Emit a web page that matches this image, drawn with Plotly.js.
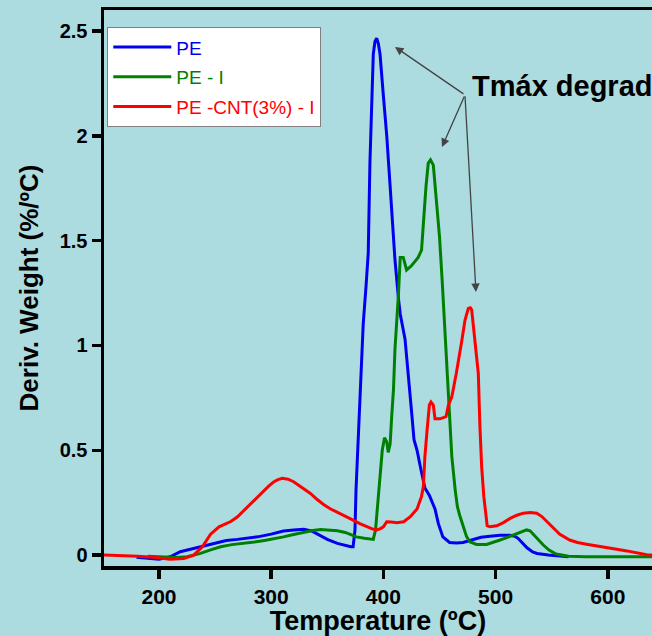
<!DOCTYPE html>
<html>
<head>
<meta charset="utf-8">
<script src="https://cdn.plot.ly/plotly-3.0.1.min.js"></script>
<style>html,body{margin:0;padding:0;background:#ACDBE0;}#chart{width:652px;height:636px;}</style>
</head>
<body>
<div id="chart"></div>
<script>
// Temperature (ºC) and derivative weight (%/ºC) for each sample
const peT = [180,190,200,210,219,228,237,245,252,260,270,280,288,300,311,320,329,336,341,350,359,366,371,373,374.7,375.6,377,379,382,384.5,386.5,388,389.6,391,392.5,394,395.5,397,400,403,406,408.3,410.3,413.5,415,419.3,422.2,425.2,427.3,430,433,437,441,444,446,449,453,459,465,471,480,487,495,504,513,517,520,524,528,533,537,547,555,565];
const peV = [-0.01,-0.015,-0.02,-0.008,0.016,0.028,0.04,0.052,0.063,0.07,0.075,0.082,0.087,0.1,0.115,0.12,0.123,0.115,0.1,0.075,0.056,0.045,0.04,0.04,0.12,0.31,0.5,0.74,1.1,1.28,1.44,1.87,2.16,2.39,2.45,2.465,2.44,2.39,2.19,2.0,1.76,1.57,1.41,1.22,1.15,1.03,0.87,0.68,0.55,0.5,0.42,0.32,0.285,0.25,0.22,0.15,0.087,0.06,0.058,0.06,0.075,0.085,0.09,0.095,0.095,0.09,0.08,0.055,0.035,0.015,0.008,0.0,-0.005,-0.008];

const peIT = [190,204,215,225,237,246,255,265,276,285,294,303,311,320,329,337,344,352,359,366,372,376,383,391,393,394.6,397,399,401,403,404.3,406,407.4,409,410.3,412,413.5,415,417.7,420.7,423,425,428,431,434,435.6,438,440,442,444.5,447,450,452.5,454.5,456.5,458.5,461,464,466,468,471,474,477,483,492,498,504,510,516,522,527.7,530.7,533.5,536.6,539.5,542.5,547.6,554,565,580,600,620,640];
const peIV = [-0.005,-0.01,-0.012,-0.008,0.008,0.025,0.04,0.05,0.056,0.062,0.07,0.078,0.087,0.098,0.11,0.117,0.122,0.12,0.116,0.108,0.095,0.087,0.08,0.075,0.12,0.23,0.37,0.5,0.56,0.54,0.49,0.53,0.66,0.79,0.98,1.1,1.25,1.42,1.42,1.36,1.37,1.38,1.4,1.42,1.455,1.6,1.76,1.87,1.885,1.86,1.72,1.52,1.3,1.1,0.88,0.68,0.47,0.31,0.23,0.19,0.135,0.09,0.064,0.051,0.051,0.06,0.072,0.083,0.095,0.108,0.12,0.116,0.1,0.08,0.065,0.048,0.024,0.005,-0.005,-0.008,-0.008,-0.008,-0.008];

const cntT = [151,165,181,195,210,222,231,238.6,246,253.5,259,264,270,276,282,288,293.6,298,302.5,306,310,315,320,327,335,341,347,353,359,366,373,379,385,390,394,397,400,403,407,412,418,424,430,434,435.6,437,439,441,442.4,444.5,446,450.4,455.8,458,461,465,470,472.7,475.7,477.5,478.7,481.6,484.6,486,487.6,489.5,491,492.5,495,501,507,513,519,524.7,531,536.6,541,545.6,550,557,566,573,581,590,599,608,617,626,634.7,640];
const cntV = [0,-0.002,-0.005,-0.01,-0.02,-0.016,0,0.04,0.1,0.135,0.148,0.16,0.183,0.215,0.247,0.28,0.31,0.33,0.35,0.36,0.366,0.362,0.35,0.325,0.294,0.265,0.24,0.22,0.205,0.185,0.167,0.15,0.135,0.125,0.12,0.125,0.135,0.159,0.158,0.154,0.159,0.183,0.22,0.28,0.326,0.47,0.6,0.716,0.73,0.716,0.65,0.65,0.66,0.716,0.755,0.867,1.026,1.12,1.177,1.18,1.17,1.026,0.867,0.62,0.42,0.28,0.19,0.14,0.135,0.14,0.155,0.175,0.19,0.2,0.203,0.2,0.185,0.16,0.14,0.1,0.072,0.06,0.052,0.045,0.037,0.028,0.02,0.01,0.002,0];

const seriesNames = ["PE", "PE - I", "PE -CNT(3%) - I"];
const seriesColors = ["#0000EE", "#008000", "#FF0000"];
const xTicks = [200, 300, 400, 500, 600];
const yTicks = [0, 0.5, 1, 1.5, 2, 2.5];
const yTickText = ["0", "0.5", "1", "1.5", "2", "2.5"];

// Annotation: arrow tail and heads (data coordinates)
const arrowTail = [472.7, 2.195];
const arrowHeadT = [410.3, 452.2, 482.5];
const arrowHeadV = [2.424, 1.947, 1.255];

const xs = [peT, peIT, cntT];
const ys = [peV, peIV, cntV];
const traces = xs.map((x, i) => ({
  x: x, y: ys[i], type: 'scatter', mode: 'lines',
  name: '<span style="color:' + seriesColors[i] + '">' + seriesNames[i] + '</span>',
  legendgroup: 'g' + i,
  line: {color: seriesColors[i], width: 3}
}));

const FONT = '"Liberation Sans", Arial, sans-serif';
const annotations = arrowHeadT.map((t, i) => ({
  x: t, y: arrowHeadV[i], xref: 'x', yref: 'y',
  ax: arrowTail[0], ay: arrowTail[1], axref: 'x', ayref: 'y',
  text: '', showarrow: true, arrowhead: 2, arrowsize: 1.3, arrowwidth: 1.3,
  arrowcolor: '#444', standoff: 0, startstandoff: 0
}));
annotations.push({
  x: 470, y: 86, xref: 'paper', yref: 'paper', text: 'Tmáx degrad',
  showarrow: false, xanchor: 'left', yanchor: 'middle',
  font: {family: FONT, size: 29, color: '#000', weight: 'bold'}
});
// convert pixel to paper for the text annotation
const W = 652, H = 636, mL = 104, mR = 0, mT = 10, mB = 70;
const last = annotations[annotations.length - 1];
last.x = (last.x - mL) / (W - mL - mR);
last.y = 1 - (last.y - mT) / (H - mT - mB);

const layout = {
  width: W, height: H,
  margin: {l: mL, r: mR, t: mT, b: mB, pad: 0},
  paper_bgcolor: '#ACDBE0', plot_bgcolor: '#ACDBE0',
  font: {family: FONT, color: '#000'},
  showlegend: true,
  legend: {
    x: 0.006, y: 0.969, xanchor: 'left', yanchor: 'top',
    bgcolor: '#FFFFFF', bordercolor: '#808080', borderwidth: 1,
    font: {family: FONT, size: 19},
    traceorder: 'grouped', tracegroupgap: 2,
    itemwidth: 58
  },
  xaxis: {
    range: [151, 639.4], tickvals: xTicks, ticks: 'outside', ticklen: 9, tickwidth: 3.5,
    tickcolor: '#000', showline: true, linecolor: '#000', linewidth: 3.5, mirror: true,
    showgrid: false, zeroline: false, automargin: false,
    tickfont: {family: FONT, size: 21, weight: 'bold'},
    title: {text: 'Temperature (ºC)', font: {family: FONT, size: 27, weight: 'bold'}, standoff: 8}
  },
  yaxis: {
    range: [-0.052, 2.6], tickvals: yTicks, ticktext: yTickText, ticks: 'outside', ticklen: 9, tickwidth: 3.5,
    tickcolor: '#000', showline: true, linecolor: '#000', linewidth: 3.5,
    showgrid: false, zeroline: false, automargin: false,
    tickfont: {family: FONT, size: 20, weight: 'bold'},
    title: {text: 'Deriv. Weight (%/ºC)', font: {family: FONT, size: 26, weight: 'bold'}, standoff: 14}
  },
  annotations: annotations
};

Plotly.newPlot('chart', traces, layout, {displayModeBar: false, staticPlot: true});
</script>
</body>
</html>
